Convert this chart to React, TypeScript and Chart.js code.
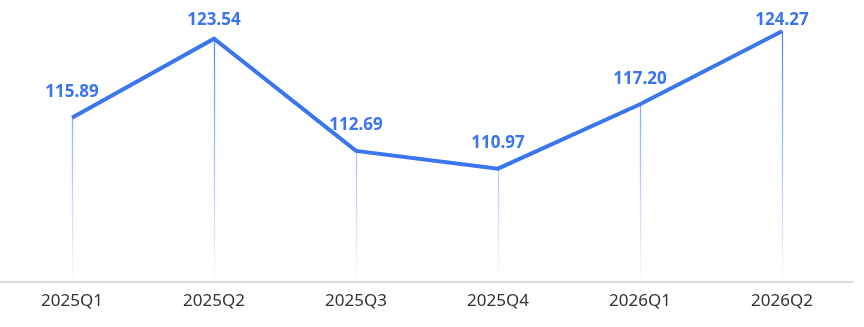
import React, { useEffect, useRef } from "react";
import { Chart, registerables } from "chart.js";

Chart.register(...registerables);

const categories = ["2025Q1", "2025Q2", "2025Q3", "2025Q4", "2026Q1", "2026Q2"];
const values = [115.89, 123.54, 112.69, 110.97, 117.2, 124.27];
const yMin = 100;
const yMax = 127;

const BLUE = "#3b76ec";

const dropLinePlugin = {
  id: "dropLines",
  beforeDatasetsDraw(chart: any) {
    const { ctx, chartArea } = chart;
    const meta = chart.getDatasetMeta(0);
    const grad = ctx.createLinearGradient(0, chartArea.top, 0, chartArea.bottom);
    grad.addColorStop(0, "rgba(59,118,236,0.95)");
    grad.addColorStop(1, "rgba(59,118,236,0.02)");
    ctx.save();
    ctx.strokeStyle = grad;
    ctx.lineWidth = 1.3;
    meta.data.forEach((pt: any) => {
      const x = Math.round(pt.x) + 0.5;
      ctx.beginPath();
      ctx.moveTo(x, pt.y);
      ctx.lineTo(x, chartArea.bottom + 2);
      ctx.stroke();
    });
    ctx.restore();
  },
  afterDatasetsDraw(chart: any) {
    const { ctx } = chart;
    const meta = chart.getDatasetMeta(0);
    ctx.save();
    ctx.fillStyle = BLUE;
    ctx.font = "bold 17px 'Noto Sans', sans-serif";
    ctx.textAlign = "center";
    ctx.textBaseline = "bottom";
    meta.data.forEach((pt: any, i: number) => {
      const y = Math.max(pt.y - 17, 29);
      ctx.fillText(values[i].toFixed(2), pt.x, y);
    });
    ctx.restore();
  },
};

export default function App() {
  const ref = useRef<HTMLCanvasElement | null>(null);
  useEffect(() => {
    if (!ref.current) return;
    const chart = new Chart(ref.current, {
      type: "line",
      data: {
        labels: categories,
        datasets: [
          {
            data: values,
            borderColor: BLUE,
            borderWidth: 4,
            pointRadius: 0,
            pointHoverRadius: 0,
            tension: 0,
            fill: false,
          },
        ],
      },
      options: {
        animation: false,
        responsive: false,
        maintainAspectRatio: false,
        layout: { padding: { left: 1, right: 11, top: 3, bottom: 0 } },
        plugins: { legend: { display: false }, tooltip: { enabled: false } },
        scales: {
          x: {
            offset: true,
            grid: { display: false, drawTicks: false },
            border: { display: true, color: "#dcdcdc", width: 2 },
            ticks: {
              padding: 9,
              color: "#333",
              font: { family: "'Noto Sans', sans-serif", size: 17 },
              maxRotation: 0,
            },
            afterFit(scale: any) {
              scale.height = 45;
            },
          },
          y: {
            display: false,
            min: yMin,
            max: yMax,
          },
        },
      },
      plugins: [dropLinePlugin],
    });
    return () => chart.destroy();
  }, []);
  return (
    <div style={{ position: "absolute", left: 0, top: 0, width: 864, height: 327, background: "#fff" }}>
      <canvas ref={ref} width={864} height={327} style={{ width: 864, height: 327 }} />
    </div>
  );
}
